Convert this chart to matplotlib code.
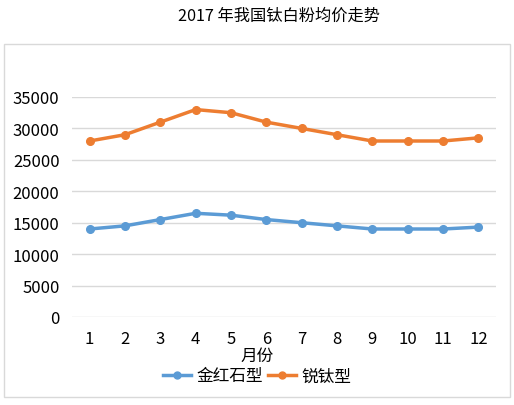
import matplotlib
matplotlib.use("Agg")
import matplotlib.pyplot as plt
from matplotlib.patches import Rectangle
from matplotlib.lines import Line2D

plt.rcParams['font.family'] = ['Noto Sans CJK SC', 'DejaVu Sans']

months = [1, 2, 3, 4, 5, 6, 7, 8, 9, 10, 11, 12]
rutile = [14000, 14500, 15500, 16500, 16200, 15500, 15000, 14500, 14000, 14000, 14000, 14300]
anatase = [28000, 29000, 31000, 33000, 32500, 31000, 30000, 29000, 28000, 28000, 28000, 28500]
series_names = ['金红石型', '锐钛型']
title = '2017 年我国钛白粉均价走势'
xlabel = '月份'
yticks = [0, 5000, 10000, 15000, 20000, 25000, 30000, 35000]

W, H = 514, 406
fig = plt.figure(figsize=(W/100, H/100), dpi=100)
fig.patch.set_facecolor('white')
fig.add_artist(Rectangle((4/W, 1-398/H), 506/W, 353/H, transform=fig.transFigure,
                         fill=False, edgecolor='#d9d9d9', linewidth=1))

ax = fig.add_axes([72/W, 1-318/H, 424/W, 220/H])
blue = '#5B9BD5'
orange = '#ED7D31'
ax.plot(months, rutile, color=blue, lw=2.5, marker='o', ms=5.5, label=series_names[0])
ax.plot(months, anatase, color=orange, lw=2.5, marker='o', ms=5.5, label=series_names[1])

ax.set_xlim(0.5, 12.5)
ax.set_ylim(0, 35000)
ax.set_yticks(yticks)
ax.set_yticklabels([str(v) for v in yticks], fontsize=12)
ax.set_xticks(months)
ax.set_xticklabels([str(m) for m in months], fontsize=12)
ax.tick_params(axis='x', length=0, pad=9)
ax.tick_params(axis='y', length=0, pad=9)
ax.grid(axis='y', color='#d9d9d9', lw=1)
ax.set_axisbelow(True)
for s in ax.spines.values():
    s.set_visible(False)

fig.text(257/W, 1-356/H, xlabel, ha='center', va='center', fontsize=12)
fig.text(279/W, 1-16/H, title, ha='center', va='center', fontsize=11.7)

handles = [Line2D([], [], color=blue, lw=2.5, marker='o', ms=5),
           Line2D([], [], color=orange, lw=2.5, marker='o', ms=5)]
fig.legend(handles, series_names, loc='center', bbox_to_anchor=(257/W, 1-377/H),
           ncol=2, frameon=False, fontsize=12, handlelength=1.7, handletextpad=0.3,
           columnspacing=0.3, borderpad=0)

fig.savefig('out.png', dpi=100)
